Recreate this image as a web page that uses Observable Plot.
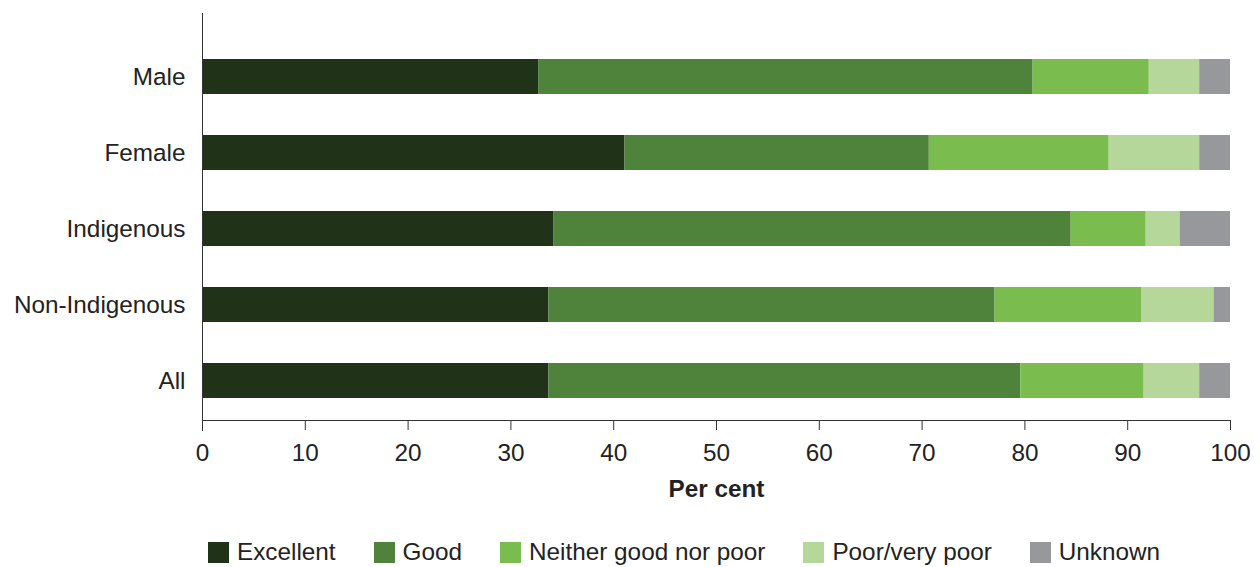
<!DOCTYPE html>
<html>
<head>
<meta charset="utf-8">
<script src="https://cdn.jsdelivr.net/npm/d3@7"></script>
<script src="https://cdn.jsdelivr.net/npm/@observablehq/plot@0.6"></script>
<style>
  html, body { margin: 0; padding: 0; background: #fff; }
  body { width: 1260px; height: 567px; overflow: hidden; font-family: "Liberation Sans", Arial, sans-serif; }
  #chart svg { display: block; }
  #legend { display: flex; align-items: center; padding-left: 208px; margin-top: 38px; font-size: 24.3px; color: #222; }
  .item { display: flex; align-items: center; margin-right: 38px; }
  .sw { width: 21px; height: 21px; margin-right: 8px; }
</style>
</head>
<body>
<div id="chart"></div>
<div id="legend"></div>
<script>
const categories = ["Male", "Female", "Indigenous", "Non-Indigenous", "All"];
const series = ["Excellent", "Good", "Neither good nor poor", "Poor/very poor", "Unknown"];
const colors = ["#203319", "#4f823a", "#7bbc4e", "#b5d79a", "#97989b"];
const excellent = [32.7, 41.1, 34.2, 33.7, 33.7];
const good      = [48.1, 29.6, 50.3, 43.4, 45.9];
const neither   = [11.3, 17.5, 7.3, 14.3, 12.0];
const poor      = [4.9, 8.8, 3.3, 7.0, 5.4];
const unknown   = [3.0, 3.0, 4.9, 1.6, 3.0];
const xTicks = [0, 10, 20, 30, 40, 50, 60, 70, 80, 90, 100];

const seriesValues = [excellent, good, neither, poor, unknown];
const data = [];
categories.forEach((c, i) => {
  series.forEach((s, j) => data.push({category: c, series: s, value: seriesValues[j][i]}));
});

const FS = 24.3;
const chart = Plot.plot({
  width: 1260,
  height: 500,
  marginLeft: 202,
  marginRight: 30,
  marginTop: 13,
  marginBottom: 80,
  style: {fontFamily: "'Liberation Sans', Arial, sans-serif", fontSize: FS + "px", color: "#222"},
  x: {domain: [0, 100]},
  y: {domain: categories, range: [37, 420], paddingInner: 0.541, paddingOuter: 0.282},
  color: {domain: series, range: colors},
  marks: [
    Plot.barX(data, Plot.stackX({x: "value", y: "category", fill: "series", order: series})),
    Plot.ruleX([0], {stroke: "#333", strokeWidth: 1, insetBottom: -11}),
    Plot.frame({anchor: "bottom", stroke: "#333", strokeWidth: 1}),
    Plot.axisX({ticks: xTicks, tickSize: 10, tickPadding: 13, fontSize: FS, stroke: "#333",
      label: "Per cent", labelAnchor: "center", labelArrow: "none", labelOffset: 76}),
    Plot.axisY({tickSize: 0, tickPadding: 17, fontSize: FS, label: null})
  ]
});
document.getElementById("chart").appendChild(chart);
chart.querySelectorAll("g[aria-label='x-axis label'] text").forEach(t => {
  t.setAttribute("font-weight", "bold");
  t.setAttribute("font-size", FS);
});

const legend = document.getElementById("legend");
series.forEach((s, i) => {
  const it = document.createElement("div");
  it.className = "item";
  const sw = document.createElement("div");
  sw.className = "sw";
  sw.style.background = colors[i];
  const lb = document.createElement("span");
  lb.textContent = s;
  it.appendChild(sw); it.appendChild(lb);
  legend.appendChild(it);
});
</script>
</body>
</html>
